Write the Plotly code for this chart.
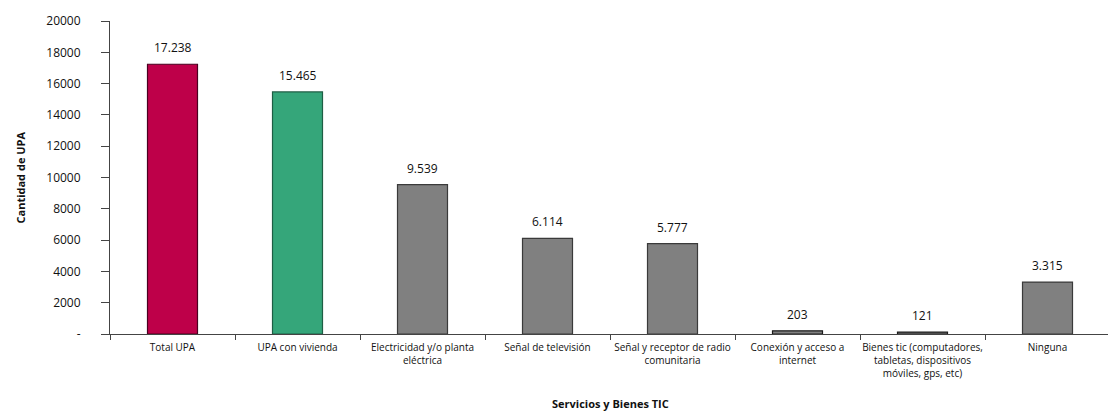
import plotly.graph_objects as go

categorias = ["Total UPA", "UPA con vivienda", "Electricidad y/o planta<br>eléctrica",
              "Señal de televisión", "Señal y receptor de radio<br>comunitaria",
              "Conexión y acceso a<br>internet",
              "Bienes tic (computadores,<br>tabletas, dispositivos<br>móviles, gps, etc)",
              "Ninguna"]
valores = [17238, 15465, 9539, 6114, 5777, 203, 121, 3315]
etiquetas = ["17.238", "15.465", "9.539", "6.114", "5.777", "203", "121", "3.315"]
colores = ["#BE0049", "#35A67A", "#808080", "#808080", "#808080", "#808080", "#808080", "#808080"]
bordes = ["#4A0020", "#1E5E44", "#3A3A3A", "#3A3A3A", "#3A3A3A", "#1A1A1A", "#1A1A1A", "#3A3A3A"]

y_ticks = [0, 2000, 4000, 6000, 8000, 10000, 12000, 14000, 16000, 18000, 20000]
y_labels = ["-", "2000", "4000", "6000", "8000", "10000", "12000", "14000", "16000", "18000", "20000"]

fuente = "Open Sans, sans-serif"

fig = go.Figure(go.Bar(
    x=categorias, y=valores,
    marker=dict(color=colores, line=dict(color=bordes, width=1.2)),
    width=0.4, cliponaxis=False,
))

# etiquetas de valor encima de cada barra
notas = [dict(x=c, y=v, text=t, showarrow=False, yanchor="bottom", yshift=6,
              font=dict(size=12, color="#111"))
         for c, v, t in zip(categorias, valores, etiquetas)]

notas += [
    dict(text="<b>Cantidad de UPA</b>", xref="paper", yref="paper", x=-0.09, y=0.5,
         textangle=-90, showarrow=False, font=dict(size=11), xanchor="center"),
    dict(text="<b>Servicios y Bienes TIC</b>", xref="paper", yref="paper", x=0.5, y=-0.222,
         showarrow=False, font=dict(size=11), yanchor="middle"),
]

fig.update_layout(
    width=1102, height=405,
    margin=dict(l=102, r=0, t=13, b=79),
    plot_bgcolor="white", paper_bgcolor="white",
    font=dict(family=fuente, size=10, color="#111"),
    showlegend=False,
    xaxis=dict(
        automargin=False,
        showline=True, linecolor="#444", linewidth=1,
        ticks="outside", ticklen=5, tickcolor="#444", ticklabelstandoff=4,
        tickson="boundaries", tickangle=0, tickfont=dict(size=10),
    ),
    yaxis=dict(
        automargin=False,
        range=[0, 20000], tickvals=y_ticks, ticktext=y_labels,
        showline=True, linecolor="#444", linewidth=1,
        ticks="outside", ticklen=8, tickcolor="#444", ticklabelstandoff=18,
        showgrid=False, zeroline=False, tickfont=dict(size=12),
    ),
    annotations=notas,
)

fig.write_html("out.html")
